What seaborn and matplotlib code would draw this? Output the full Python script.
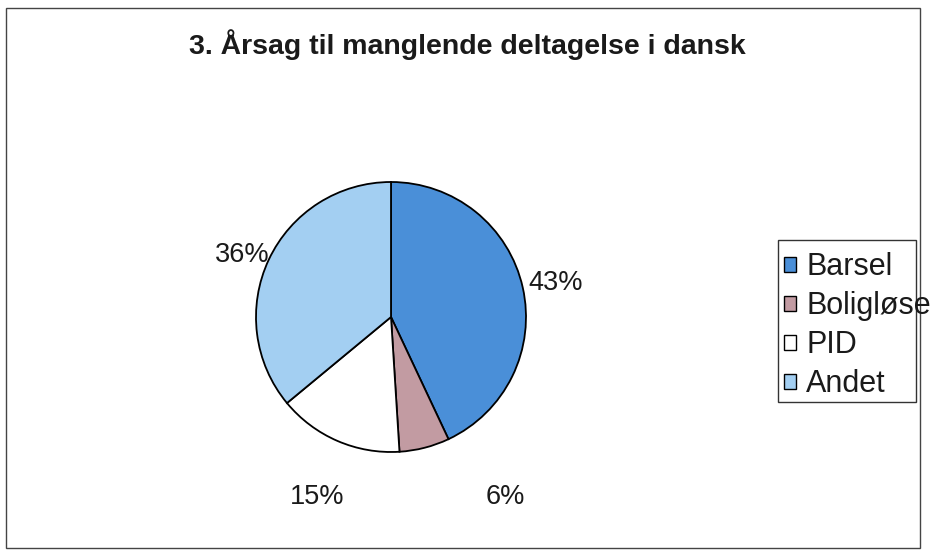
import matplotlib
matplotlib.use("Agg")
import matplotlib.pyplot as plt
from matplotlib.patches import Rectangle
import seaborn as sns

categories = ["Barsel", "Boligløse", "PID", "Andet"]
values = [43, 6, 15, 36]
pct_labels = ["43%", "6%", "15%", "36%"]
title = "3. Årsag til manglende deltagelse i dansk"

colors = ["#4a8fd8", "#c29ba2", "#ffffff", "#a3cff2"]
# label positions in pie-radius units (layout)
label_pos = [(1.22, 0.25), (0.85, -1.33), (-0.55, -1.33), (-1.10, 0.46)]

sns.set_theme(style="white")
plt.rcParams["font.family"] = ["Liberation Sans", "DejaVu Sans"]

W, H = 932, 551
fig = plt.figure(figsize=(W / 100, H / 100), dpi=100)
fig.patch.set_facecolor("white")

cx, cy, r = 391, 317, 135
ax = fig.add_axes([(cx - r) / W, (H - cy - r) / H, 2 * r / W, 2 * r / H])
wedges, _ = ax.pie(values, colors=colors, startangle=90, counterclock=False,
                   wedgeprops=dict(edgecolor="black", linewidth=1.3))
ax.set_xlim(-1, 1)
ax.set_ylim(-1, 1)
ax.set_aspect("equal")
ax.axis("off")

for lab, (lx, ly) in zip(pct_labels, label_pos):
    ax.text(lx, ly, lab, ha="center", va="center", fontsize=19.5, color="#1a1a1a")

fig.text(467 / W, 1 - 45 / H, title, ha="center", va="center",
         fontsize=20.5, fontweight="bold", color="#1a1a1a")

# legend
handles = [Rectangle((0, 0), 1, 1, facecolor=c, edgecolor="black", linewidth=1.0)
           for c in colors]
leg = fig.legend(handles, categories, loc="upper left",
                 bbox_to_anchor=(784 / W, 1 - 252 / H), frameon=False,
                 fontsize=22, handlelength=0.38, handleheight=0.38,
                 handletextpad=0.35, labelspacing=0.30, borderaxespad=0,
                 borderpad=0.0)
for t in leg.get_texts():
    t.set_color("#1a1a1a")
fig.add_artist(Rectangle((778 / W, 1 - 402 / H), (916 - 778) / W, (402 - 240) / H,
                         transform=fig.transFigure, fill=False,
                         edgecolor="#333333", linewidth=1.0))

# outer chart border
fig.add_artist(Rectangle((6 / W, 1 - 548 / H), (920 - 6) / W, (548 - 8) / H,
                         transform=fig.transFigure, fill=False,
                         edgecolor="#444444", linewidth=1.0))

fig.savefig("out.png", dpi=100, facecolor="white")
